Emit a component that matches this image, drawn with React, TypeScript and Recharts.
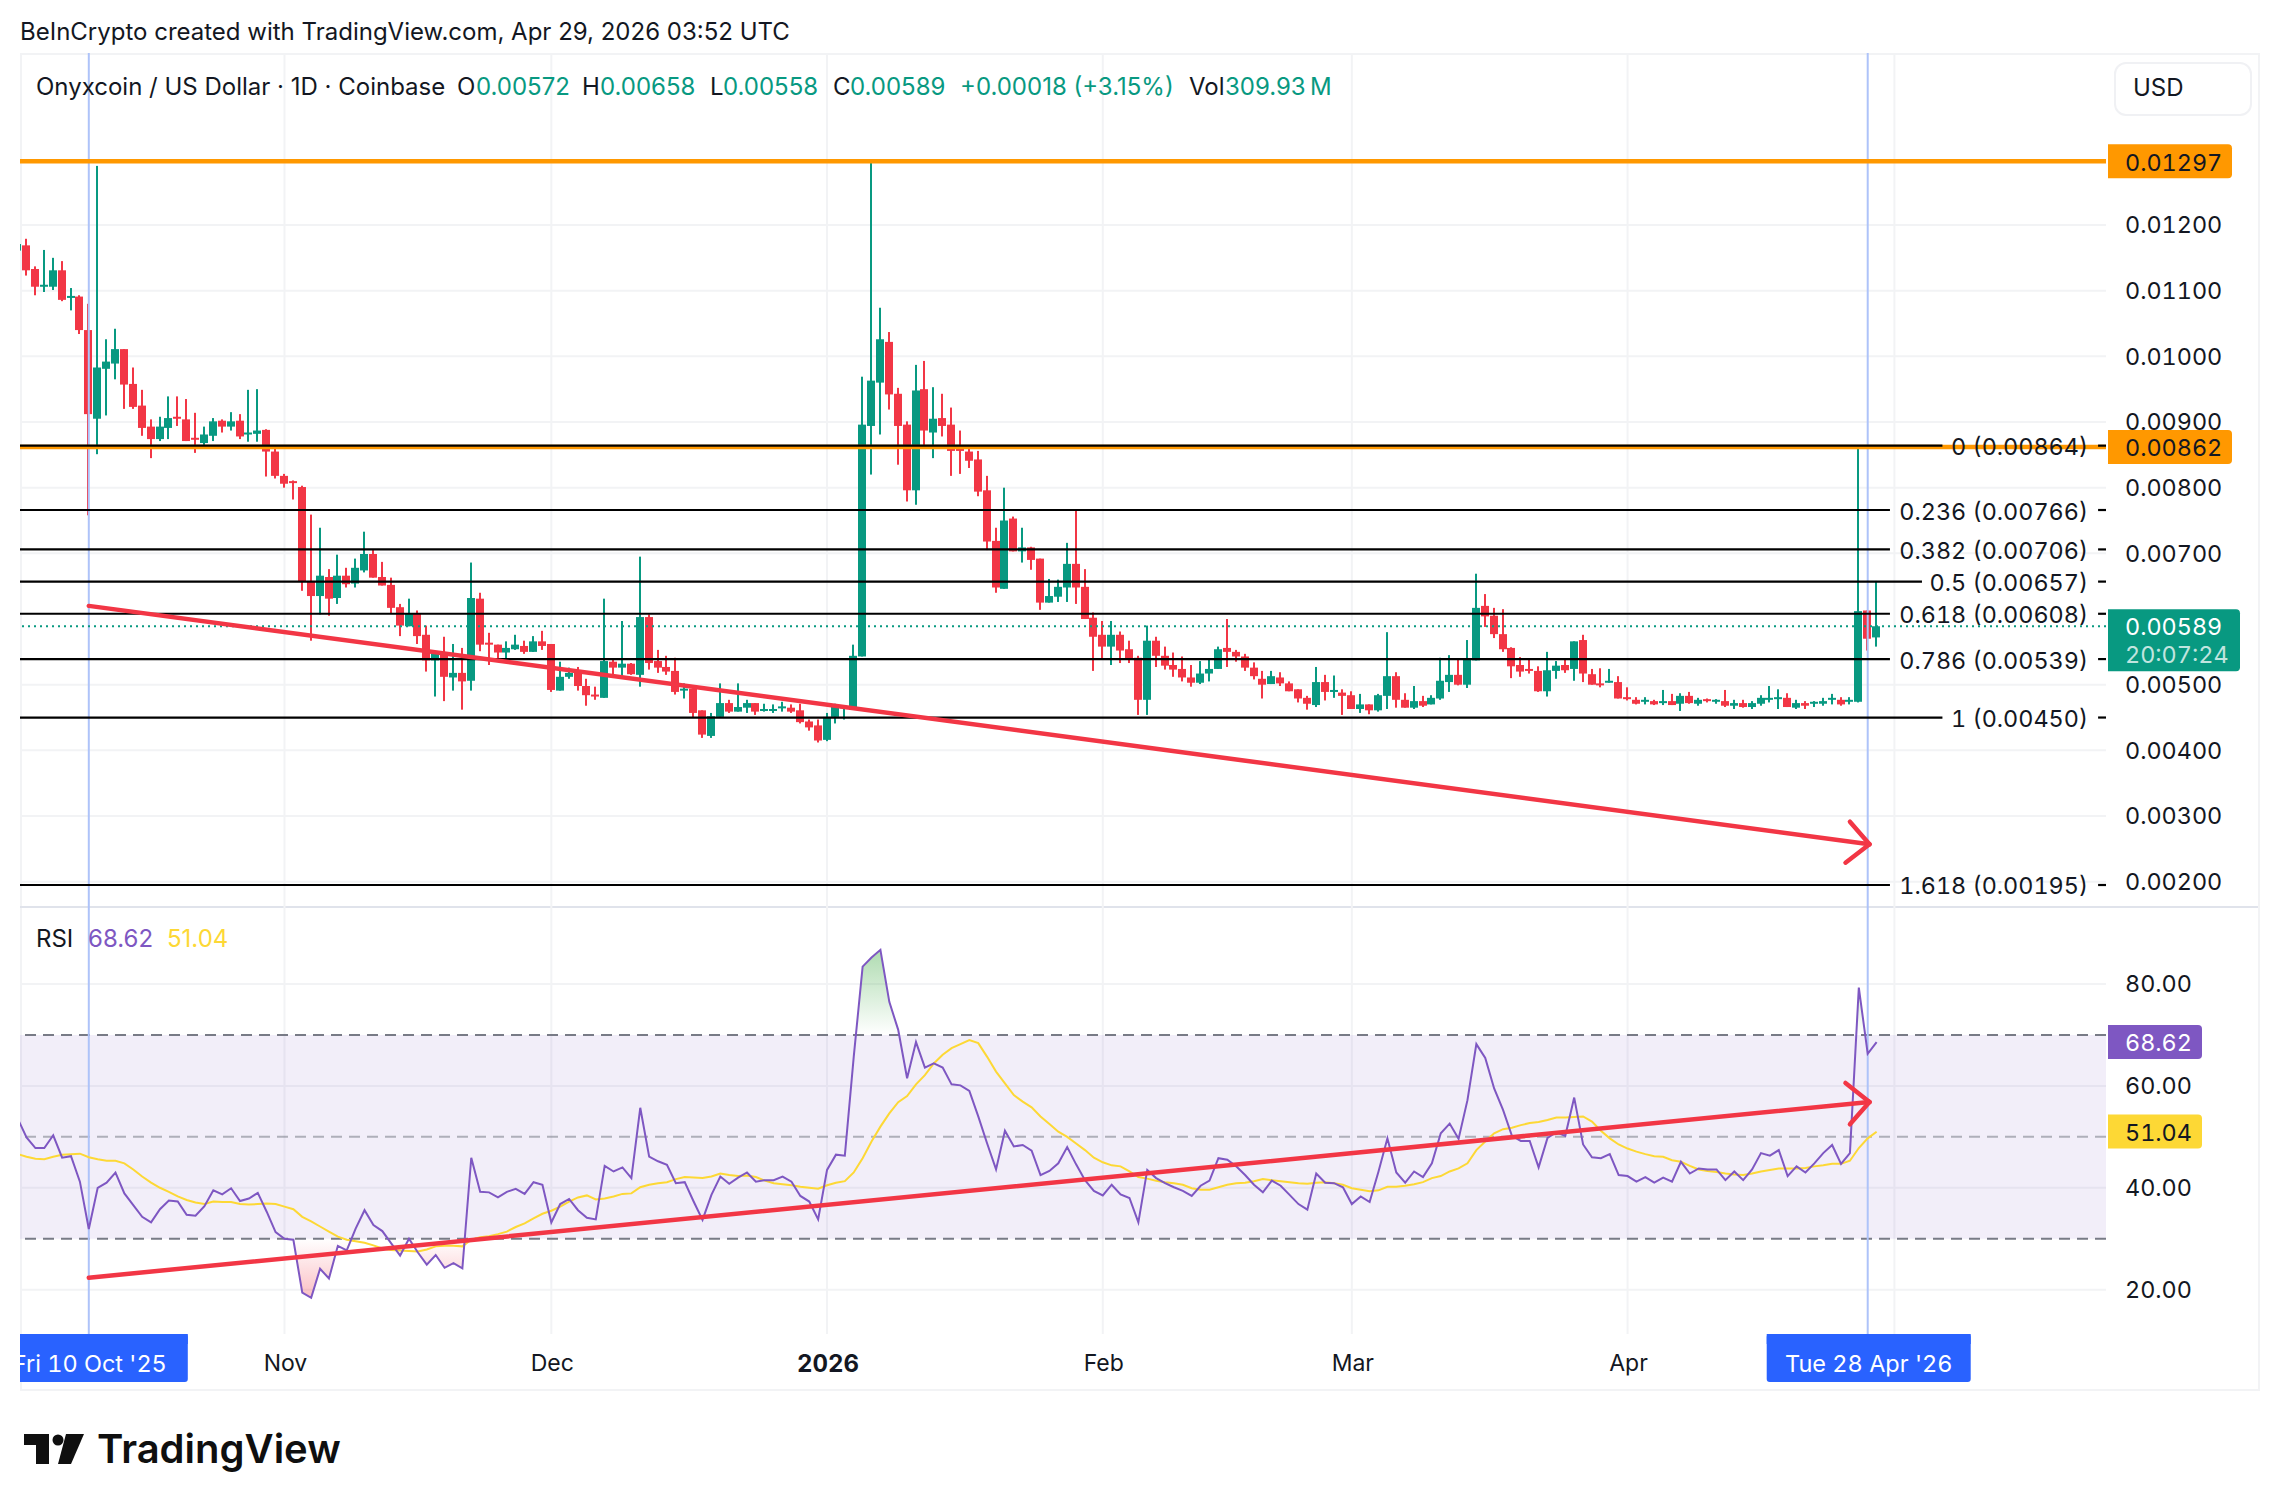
import { Area, Bar, CartesianGrid, ComposedChart, Line, ReferenceArea, ReferenceLine, XAxis, YAxis } from "recharts"

const FONT = "Inter, sans-serif"
const INK = "#131722"
const UP = "#089981"
const DOWN = "#f23645"
const ORANGE = "#ff9800"
const CROSS = "#aec3f9"
const GRID = "#f2f3f5"
const AXIS_FONT = 23.4

// days are counted from Fri 10 Oct '25 (day 0); first row is day -8
const firstDay = -8

// prices in 1e-5 USD
const opens = [1161,
  1169,1133,1106,1106,1131,1089,1091,1040,905,981,
  989,1011,958,925,893,874,891,908,904,876,
  868,879,902,893,902,881,882,888,855,818,
  810,801,658,635,664,632,666,654,674,699,
  664,652,618,589,608,576,537,548,511,518,
  506,631,564,561,549,554,559,550,566,562,
  491,512,521,498,485,480,535,526,532,515,
  603,536,527,521,492,494,461,422,451,472,
  459,465,472,461,461,464,465,461,444,438,
  416,451,464,462,543,894,960,1022,943,896,
  796,950,884,906,896,860,855,843,796,719,
  646,753,703,709,692,625,634,648,684,649,
  602,576,558,576,554,541,477,567,544,530,
  524,511,503,517,524,556,550,543,526,509,
  501,511,502,493,480,469,504,489,488,484,
  463,470,461,483,513,477,465,475,470,479,
  504,515,500,537,620,605,577,556,530,524,
  521,490,521,530,524,568,516,502,503,504,
  481,477,474,475,473,475,471,483,471,478,
  474,475,468,472,466,471,477,479,480,465,
  472,472,471,477,477,474,474,613,572]
const highs = [1171,
  1179,1137,1162,1150,1145,1104,1093,1080,1290,1026,
  1042,1011,983,949,904,908,939,939,935,914,
  893,906,904,915,912,949,950,889,865,821,
  811,803,759,739,676,698,678,692,733,705,
  687,663,623,631,613,590,551,573,562,556,
  686,640,579,561,566,576,567,574,582,562,
  535,526,527,509,497,631,538,597,533,695,
  607,553,544,541,502,494,461,457,502,477,
  502,477,472,471,470,474,470,471,447,447,
  457,471,468,561,969,1297,1074,1037,952,901,
  987,993,953,943,922,887,861,856,818,739,
  800,756,739,710,692,661,660,716,765,676,
  610,597,597,581,567,544,590,573,558,549,
  543,530,536,539,558,600,553,547,534,521,
  521,519,505,493,483,527,515,514,493,490,
  486,470,486,580,519,487,498,483,484,541,
  545,539,568,669,638,617,615,557,542,538,
  528,550,536,538,566,576,524,525,524,513,
  496,481,481,477,492,486,487,489,480,479,
  478,492,477,477,475,484,498,493,487,477,
  475,475,480,486,481,481,865,613,658]
const lows = [1161,
  1123,1093,1098,1101,1084,1070,1034,758,851,910,
  965,920,920,879,845,871,874,894,871,853,
  865,871,884,887,874,870,870,817,814,800,
  782,643,567,607,605,623,648,648,671,663,
  651,608,574,589,562,520,482,475,491,462,
  491,551,530,537,540,553,547,550,553,489,
  491,509,491,468,477,480,515,512,515,497,
  523,518,515,485,479,450,419,419,451,457,
  459,457,454,459,457,459,457,441,430,412,
  414,441,447,462,543,820,881,919,835,779,
  774,864,845,878,818,821,830,787,705,640,
  646,703,686,675,614,625,626,626,623,600,
  521,539,530,533,533,454,454,527,523,512,
  505,497,501,505,524,527,535,521,508,479,
  501,498,490,473,462,466,476,480,454,463,
  457,455,459,463,465,465,463,466,470,477,
  489,499,495,537,588,571,550,510,512,517,
  489,482,509,518,506,504,500,496,503,479,
  476,470,470,469,469,469,460,471,468,473,
  471,466,463,465,463,468,473,463,466,463,
  463,466,468,470,468,470,473,552,558]
const closes = [1171,
  1131,1106,1109,1131,1086,1092,1040,912,983,992,
  1011,957,923,891,874,893,906,905,871,873,
  881,901,893,901,878,884,887,855,818,806,
  807,657,635,666,631,666,653,678,699,663,
  651,617,590,608,574,537,548,512,518,505,
  632,561,561,549,556,561,550,566,559,492,
  512,518,498,484,482,536,526,532,516,603,
  533,526,520,489,494,457,424,452,472,459,
  466,472,459,463,463,467,459,443,435,415,
  451,466,467,544,896,963,1026,942,894,796,
  948,887,905,894,856,856,841,794,718,648,
  750,703,709,690,625,635,649,684,648,600,
  573,558,576,552,539,477,567,544,529,523,
  511,503,517,524,554,550,543,526,513,500,
  513,502,490,479,471,504,489,492,483,463,
  470,461,484,513,477,465,475,468,480,506,
  515,500,539,617,604,577,554,528,520,521,
  490,522,529,522,566,517,500,499,506,479,
  479,471,477,470,475,469,483,472,477,476,
  477,468,472,466,472,480,480,481,466,472,
  468,474,475,480,470,477,612,570,589]

const rsiValues = [53.6,49.9,47.8,47.8,50.3,45.9,46.2,41.2,
  31.9,40.0,41.0,43.0,38.9,36.6,34.3,33.2,35.8,37.5,
  37.3,34.7,34.5,36.4,39.5,38.7,39.9,37.4,37.9,39.0,
  35.3,31.3,30.0,29.8,19.4,18.4,24.1,22.2,28.6,27.7,
  32.0,35.6,32.7,31.5,29.1,26.7,30.0,27.3,24.9,26.8,
  24.3,25.2,24.2,45.9,39.2,39.1,38.1,39.2,39.8,38.8,
  41.1,40.6,33.2,36.8,37.8,35.6,34.1,33.8,44.3,43.2,
  44.0,41.9,55.7,46.1,45.2,44.5,40.9,41.1,37.3,33.7,
  38.6,42.2,40.8,42.0,43.0,41.2,41.5,41.5,42.2,41.2,
  38.4,37.3,33.8,43.5,46.5,46.3,65.7,83.4,85.2,86.7,
  76.5,71.0,61.5,68.6,63.6,64.4,63.6,60.3,60.1,59.0,
  54.0,48.7,43.6,51.2,48.1,48.4,47.3,42.5,43.3,44.8,
  48.0,44.6,41.5,39.4,38.5,40.6,38.7,38.0,33.2,43.5,
  41.9,40.9,40.1,39.4,38.4,40.4,41.4,45.8,45.5,44.2,
  42.5,40.6,39.1,41.4,40.4,38.6,36.8,35.7,42.8,41.0,
  40.9,40.1,36.8,38.3,37.2,43.2,49.7,43.0,41.0,43.2,
  42.1,44.8,50.7,52.6,49.6,57.2,68.2,65.5,59.5,55.3,
  50.2,49.2,49.2,44.0,49.8,50.9,50.2,57.7,48.5,46.0,
  45.8,46.6,42.5,42.3,41.2,42.1,41.0,42.0,41.2,45.1,
  42.8,43.8,43.6,43.6,41.5,43.2,41.5,43.6,46.8,46.3,
  47.4,42.3,44.2,43.0,44.8,46.8,48.4,44.7,46.8,79.3,
  66.3,68.6]
const rsiAverage = [46.6,46.1,45.7,45.6,46.1,46.5,46.6,46.7,
  46.0,45.6,45.3,45.3,44.8,43.6,42.2,41.0,40.0,39.2,
  38.3,37.6,37.1,36.8,37.3,37.2,37.2,36.8,36.7,36.8,
  36.9,36.8,36.3,35.8,34.3,33.4,32.4,31.4,30.4,29.8,
  29.5,29.2,28.7,28.1,27.8,27.7,27.6,27.5,27.9,28.5,
  28.6,28.6,28.5,29.8,30.3,30.5,30.9,31.4,32.3,33.0,
  34.0,34.9,35.5,36.3,37.3,38.1,38.5,37.7,37.9,38.3,
  38.8,38.9,40.1,40.6,40.9,41.1,41.7,42.1,42.0,41.9,
  42.2,42.8,42.5,42.3,42.4,42.1,41.4,40.9,40.7,40.5,
  40.2,40.0,39.8,40.5,41.0,41.3,43.0,45.8,49.1,52.0,
  54.6,56.8,58.0,60.3,62.1,64.4,66.1,67.4,68.2,69.0,
  68.4,65.7,62.8,60.5,58.2,56.9,55.8,54.0,52.5,51.0,
  50.0,48.7,47.4,45.9,45.0,44.4,44.2,43.2,42.1,41.8,
  41.4,41.1,40.9,40.6,39.9,39.6,39.6,40.1,40.6,40.9,
  41.0,41.3,41.7,41.5,41.3,41.1,40.9,40.8,41.0,41.1,
  40.9,40.6,39.9,39.6,39.3,39.5,40.2,40.2,40.4,40.7,
  41.1,41.9,42.3,43.2,43.8,44.8,47.4,49.1,50.7,51.5,
  51.8,52.3,52.7,52.9,53.3,53.8,53.8,53.9,54.0,53.0,
  51.2,49.7,48.5,47.7,47.1,46.6,46.2,46.1,45.4,45.1,
  44.3,43.6,43.3,43.1,42.8,42.6,42.5,42.8,43.2,43.5,
  43.8,43.8,43.8,43.9,44.2,44.4,44.7,44.7,45.3,47.8,
  49.7,51.0]

const monthDays = [22, 52, 83, 114, 142, 173, 203]
const monthLabels = ["Nov", "Dec", "2026", "Feb", "Mar", "Apr", ""]
const priceTicks = [0.002, 0.003, 0.004, 0.005, 0.007, 0.008, 0.009, 0.01, 0.011, 0.012]
const rsiTicks = [20, 40, 60, 80]

const fibRatios = ["0", "0.236", "0.382", "0.5", "0.618", "0.786", "1", "1.618"]
const fibPrices = [0.00864, 0.00766, 0.00706, 0.00657, 0.00608, 0.00539, 0.0045, 0.00195]
const fibLineEnds = [208.4, 202.5, 202.5, 206.1, 202.5, 202.5, 208.4, 202.5]

const trendDays = [0, 200.2, 198, 197.5]
const priceTrend = [0.0062, 0.00257, 0.002914, 0.00229]
const rsiTrend = [22.35, 56.84, 60.57, 52.46]

const X_MIN = -7.735
const X_MAX = 226.79
const AXIS_W = 152

const priceRows = opens.map((o, i) => ({
  day: firstDay + i,
  open: o / 1e5,
  high: highs[i] / 1e5,
  low: lows[i] / 1e5,
  close: closes[i] / 1e5,
  range: [lows[i] / 1e5, highs[i] / 1e5],
}))
const rsiRows = rsiValues.map((v, i) => ({ day: firstDay + i, rsi: v, avg: rsiAverage[i] }))

function Candle(props: any) {
  const { x, y, width, height, payload } = props
  const { open, close, high, low } = payload
  const cx = Math.round(x + width / 2)
  const perUnit = height / (high - low)
  const top = y + (high - Math.max(open, close)) * perUnit
  const bottom = y + (high - Math.min(open, close)) * perUnit
  const color = close >= open ? UP : DOWN
  return (
    <g>
      <rect x={cx - 1} y={y} width={2} height={Math.max(height, 1)} fill={color} />
      <rect x={cx - 4} y={top} width={8} height={Math.max(bottom - top, 2)} fill={color} />
    </g>
  )
}

// box on the price scale: square on the left, rounded on the right
function tagPath(x: number, y: number, w: number, h: number, r = 4) {
  return `M${x} ${y}H${x + w - r}Q${x + w} ${y} ${x + w} ${y + r}V${y + h - r}Q${x + w} ${y + h} ${x + w - r} ${y + h}H${x}Z`
}

function scaleTag(text: string, fill: string, color: string, w: number) {
  return (props: any) => {
    const { x, y, width } = props.viewBox
    const left = x + width + 2
    return (
      <g>
        <path d={tagPath(left, y - 17, w, 34)} fill={fill} />
        <text x={left + 17} y={y + 1} dominantBaseline="central" fontFamily={FONT} fontSize={AXIS_FONT} fill={color}>{text}</text>
      </g>
    )
  }
}

function closeTag(props: any) {
  const { x, y, width } = props.viewBox
  const left = x + width + 2
  return (
    <g>
      <path d={tagPath(left, y - 17, 132, 62)} fill={UP} />
      <text x={left + 17} y={y} dominantBaseline="central" fontFamily={FONT} fontSize={AXIS_FONT} fill="#fff">0.00589</text>
      <text x={left + 17} y={y + 28} dominantBaseline="central" fontFamily={FONT} fontSize={AXIS_FONT} fill="#fff" fillOpacity={0.75}>20:07:24</text>
    </g>
  )
}

function fibLabel(text: string) {
  return (props: any) => (
    <text x={props.viewBox.x - 10} y={props.viewBox.y + 1} textAnchor="end" dominantBaseline="central" fontFamily={FONT} fontSize={AXIS_FONT} fill={INK}>{text}</text>
  )
}

function dateTag(text: string, halfWidth: number) {
  return (props: any) => {
    const { x, y, height } = props.viewBox
    const top = y + height
    return (
      <g>
        <rect x={x - halfWidth + 1} y={top} width={halfWidth * 2} height={48} rx={3} fill="#2962ff" />
        <rect x={x - halfWidth + 1} y={top} width={halfWidth * 2} height={10} fill="#2962ff" />
        <text x={x + 1} y={top + 29} textAnchor="middle" dominantBaseline="central" fontFamily={FONT} fontSize={23.5} fill="#fff">{text}</text>
      </g>
    )
  }
}

function MonthTick(props: any) {
  const { x, y, payload } = props
  const label = monthLabels[monthDays.indexOf(payload.value)]
  return (
    <text x={x + 1} y={y} textAnchor="middle" dominantBaseline="central" fontFamily={FONT} fontSize={label === "2026" ? 24 : 23} fontWeight={label === "2026" ? 700 : 400} fill={INK}>{label}</text>
  )
}

function PriceChart() {
  return (
    <ComposedChart width={2086 + AXIS_W} height={854} data={priceRows} margin={{ top: 0, right: 0, bottom: 0, left: 0 }} style={{ position: "absolute", left: 20, top: 53, fontVariantNumeric: "tabular-nums" }}>
      <CartesianGrid stroke={GRID} strokeWidth={2} syncWithTicks />
      <XAxis dataKey="day" type="number" domain={[X_MIN, X_MAX]} ticks={monthDays} allowDataOverflow hide />
      <YAxis orientation="right" width={AXIS_W} domain={[0.001615, 0.014619]} ticks={priceTicks} interval={0} axisLine={false} tickLine={false} tickSize={0} tickMargin={19} allowDataOverflow
        tickFormatter={(v: number) => v.toFixed(5)} tick={{ fontFamily: FONT, fontSize: AXIS_FONT, fill: INK }} />
      <ReferenceLine x={0} stroke={CROSS} strokeWidth={2} />
      <ReferenceLine x={200} stroke={CROSS} strokeWidth={2} />
      <ReferenceLine y={0.00589} stroke={UP} strokeWidth={2} strokeDasharray="2 4" label={closeTag} />
      <ReferenceLine y={0.01297} stroke={ORANGE} strokeWidth={4.5} label={scaleTag("0.01297", ORANGE, INK, 124)} />
      <ReferenceLine y={0.00862} stroke={ORANGE} strokeWidth={4.5} label={scaleTag("0.00862", ORANGE, INK, 124)} />
      {fibPrices.map((p, i) => (
        <ReferenceLine key={"line" + i} segment={[{ x: X_MIN, y: p }, { x: fibLineEnds[i], y: p }]} stroke="#000" strokeWidth={2.2} />
      ))}
      {fibPrices.map((p, i) => (
        <ReferenceLine key={"tick" + i} segment={[{ x: 225.9, y: p }, { x: X_MAX, y: p }]} stroke="#000" strokeWidth={2.2} label={fibLabel(`${fibRatios[i]} (${p.toFixed(5)})`)} />
      ))}
      <Bar dataKey="range" barSize={8} shape={Candle} isAnimationActive={false} />
      <ReferenceLine segment={[{ x: trendDays[0], y: priceTrend[0] }, { x: trendDays[1], y: priceTrend[1] }]} stroke={DOWN} strokeWidth={4.5} strokeLinecap="round" />
      <ReferenceLine segment={[{ x: trendDays[2], y: priceTrend[2] }, { x: trendDays[1], y: priceTrend[1] }]} stroke={DOWN} strokeWidth={4.5} strokeLinecap="round" />
      <ReferenceLine segment={[{ x: trendDays[3], y: priceTrend[3] }, { x: trendDays[1], y: priceTrend[1] }]} stroke={DOWN} strokeWidth={4.5} strokeLinecap="round" />
    </ComposedChart>
  )
}

function RsiChart() {
  return (
    <ComposedChart width={2086 + AXIS_W} height={482} data={rsiRows} margin={{ top: 0, right: 0, bottom: 0, left: 0 }} style={{ position: "absolute", left: 20, top: 907, fontVariantNumeric: "tabular-nums" }}>
      <defs>
        <linearGradient id="rsiGlow" gradientUnits="userSpaceOnUse" x1="0" y1="43" x2="0" y2="391">
          <stop offset="0" stopColor="#4caf50" stopOpacity={0.45} />
          <stop offset="0.244" stopColor="#4caf50" stopOpacity={0} />
          <stop offset="0.83" stopColor={DOWN} stopOpacity={0} />
          <stop offset="1" stopColor={DOWN} stopOpacity={0.32} />
        </linearGradient>
      </defs>
      <CartesianGrid stroke={GRID} strokeWidth={2} syncWithTicks />
      <XAxis dataKey="day" type="number" domain={[X_MIN, X_MAX]} ticks={monthDays} interval={0} height={55} axisLine={false} tickLine={false} tickSize={0} tickMargin={29} allowDataOverflow tick={MonthTick} />
      <YAxis orientation="right" width={AXIS_W} domain={[11.3, 95.11]} ticks={rsiTicks} axisLine={false} tickLine={false} tickSize={0} tickMargin={19} allowDataOverflow
        tickFormatter={(v: number) => v.toFixed(2)} tick={{ fontFamily: FONT, fontSize: AXIS_FONT, fill: INK }} />
      <ReferenceArea y1={30} y2={70} fill="#7e57c2" fillOpacity={0.1} stroke="none" />
      <ReferenceLine y={70} stroke="#787b86" strokeWidth={2} strokeDasharray="11 7" />
      <ReferenceLine y={50} stroke="#787b86" strokeOpacity={0.55} strokeWidth={2} strokeDasharray="11 7" />
      <ReferenceLine y={30} stroke="#787b86" strokeWidth={2} strokeDasharray="11 7" />
      <ReferenceLine x={0} stroke={CROSS} strokeWidth={2} label={dateTag("Fri 10 Oct '25", 98)} />
      <ReferenceLine x={200} stroke={CROSS} strokeWidth={2} label={dateTag("Tue 28 Apr '26", 102)} />
      <Area dataKey="rsi" baseValue={50} stroke="none" fill="url(#rsiGlow)" fillOpacity={1} isAnimationActive={false} />
      <Line dataKey="avg" stroke="#fdd835" strokeWidth={2} dot={false} isAnimationActive={false} />
      <Line dataKey="rsi" stroke="#7e57c2" strokeWidth={2} dot={false} isAnimationActive={false} />
      <ReferenceLine segment={[{ x: trendDays[0], y: rsiTrend[0] }, { x: trendDays[1], y: rsiTrend[1] }]} stroke={DOWN} strokeWidth={4.5} strokeLinecap="round" />
      <ReferenceLine segment={[{ x: trendDays[3], y: rsiTrend[2] }, { x: trendDays[1], y: rsiTrend[1] }]} stroke={DOWN} strokeWidth={4.5} strokeLinecap="round" />
      <ReferenceLine segment={[{ x: trendDays[2], y: rsiTrend[3] }, { x: trendDays[1], y: rsiTrend[1] }]} stroke={DOWN} strokeWidth={4.5} strokeLinecap="round" />
      <ReferenceLine y={68.62} stroke="none" label={scaleTag("68.62", "#7e57c2", "#fff", 94)} />
      <ReferenceLine y={51.04} stroke="none" label={scaleTag("51.04", "#fdd835", INK, 94)} />
    </ComposedChart>
  )
}

function Txt({ x, y, color = INK, size = 24, children, weight }: any) {
  return (
    <span style={{ position: "absolute", left: x, top: y, transform: "translateY(-50%)", color, fontSize: size, fontWeight: weight, whiteSpace: "nowrap", lineHeight: 1 }}>{children}</span>
  )
}

export default function App() {
  return (
    <div style={{ position: "absolute", left: 0, top: 0, width: 2278, height: 1510, background: "#fff", overflow: "hidden", fontFamily: FONT }}>
      <Txt x={20} y={32}>BeInCrypto created with TradingView.com, Apr 29, 2026 03:52 UTC</Txt>
      <div style={{ position: "absolute", left: 20, top: 53, width: 2236, height: 1334, border: "2px solid #f2f3f5" }} />
      <div style={{ position: "absolute", left: 20, top: 906, width: 2238, height: 2, background: "#e0e3eb" }} />
      <PriceChart />
      <RsiChart />
      <Txt x={36} y={87}>Onyxcoin / US Dollar · 1D · Coinbase</Txt>
      <Txt x={457} y={87}>O</Txt>
      <Txt x={476} y={87} color={UP}>0.00572</Txt>
      <Txt x={582} y={87}>H</Txt>
      <Txt x={600} y={87} color={UP}>0.00658</Txt>
      <Txt x={710} y={87}>L</Txt>
      <Txt x={723} y={87} color={UP}>0.00558</Txt>
      <Txt x={833} y={87}>C</Txt>
      <Txt x={850} y={87} color={UP}>0.00589</Txt>
      <Txt x={960} y={87} color={UP}>+0.00018 (+3.15%)</Txt>
      <Txt x={1189} y={87}>Vol</Txt>
      <Txt x={1225} y={87} color={UP}>{"309.93\u2009M"}</Txt>
      <Txt x={36} y={939}>RSI</Txt>
      <Txt x={88} y={939} color="#7e57c2">68.62</Txt>
      <Txt x={167} y={939} color="#fdd835">51.04</Txt>
      <div style={{ position: "absolute", left: 2114, top: 62, width: 134, height: 50, border: "2px solid #f0f1f4", borderRadius: 12, background: "#fff" }} />
      <Txt x={2133} y={88}>USD</Txt>
      <svg width={62} height={32} style={{ position: "absolute", left: 23, top: 1433 }}>
        <path d="M1 1H26V31H13V12H1Z" fill="#0f0f0f" />
        <circle cx={35} cy={7} r={5.5} fill="#0f0f0f" />
        <path d="M43 1H61L48 31H35Z" fill="#0f0f0f" />
      </svg>
      <Txt x={97} y={1449} size={40} weight={600} color="#0f0f0f">TradingView</Txt>
    </div>
  )
}
